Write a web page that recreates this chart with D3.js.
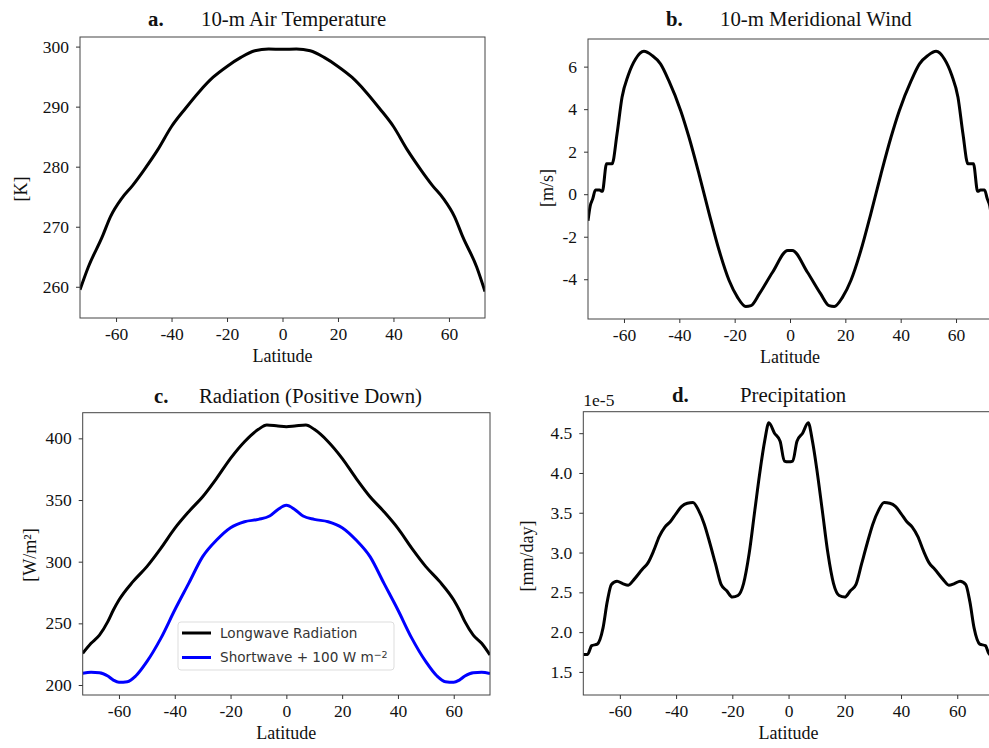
<!DOCTYPE html>
<html>
<head>
<meta charset="utf-8">
<script src="https://cdn.jsdelivr.net/npm/d3@7"></script>
<style>
body { margin: 0; background: #fff; }
svg { display: block; }
.tick text { font-family: "Liberation Serif", "Times New Roman", serif; font-size: 17.5px; fill: #111; }
.tick line { stroke: #333; }
.lbl { font-family: "Liberation Serif", "Times New Roman", serif; fill: #111; }
</style>
</head>
<body>
<div id="chart"></div>
<script>
// latitude ticks shared by all panels
const latTicks = [-60, -40, -20, 0, 20, 40, 60];

// a. 10-m air temperature [K]
const tempLat = [-73, -70, -65, -62, -58, -54, -50, -45, -40, -35, -30, -25, -20, -15, -10, -5, 0,
                 5, 10, 15, 20, 25, 30, 35, 40, 45, 50, 54, 58, 62, 65, 70, 73];
const tempVal = [259.5, 263.3, 268.3, 271.7, 274.7, 276.9, 279.4, 282.8, 286.7, 289.7, 292.5, 294.9, 296.7, 298.2, 299.3, 299.6, 299.55,
                 299.6, 299.3, 298.2, 296.7, 294.9, 292.5, 289.7, 286.7, 282.8, 279.4, 276.9, 274.7, 271.7, 268.3, 263.3, 259.2];
const tempTicks = [260, 270, 280, 290, 300];

// b. 10-m meridional wind [m/s]
const windLat = [-73, -72.2, -71.3, -70.3, -68.8, -68.2, -67.8, -66.3, -64.3, -62.5, -60.7, -58.5, -55.8, -52.8, -49.8, -46.8,
                 -43.8, -39.5, -36.5, -32.9, -29.2, -25.6, -22, -19, -16, -14.1, -11.1, -6.3, -0.8,
                 0.8, 6.3, 11.1, 14.1, 16, 19, 22, 25.6, 29.2, 32.9, 36.5, 39.5, 43.8,
                 46.8, 49.8, 52.8, 55.8, 58.5, 60.7, 62.5, 64.3, 66.3, 67.8, 68.2, 68.8, 70.3, 71.3, 72.2, 73];
const windVal = [-1.25, -0.55, -0.22, 0.2, 0.2, 0.14, 0.14, 1.43, 1.43, 2.84, 4.56, 5.58, 6.36, 6.72, 6.52, 6.13,
                 5.34, 3.93, 2.68, 0.96, -0.92, -2.65, -4.06, -4.84, -5.28, -5.24, -4.69, -3.67, -2.65,
                 -2.65, -3.67, -4.69, -5.24, -5.28, -4.84, -4.06, -2.65, -0.92, 0.96, 2.68, 3.93, 5.34,
                 6.13, 6.52, 6.72, 6.36, 5.58, 4.56, 2.84, 1.43, 1.43, 0.14, 0.14, 0.2, 0.2, -0.22, -0.55, -1.25];
const windTicks = [-4, -2, 0, 2, 4, 6];

// c. radiation (positive down) [W/m2]
const lwLat = [-73, -70, -67, -64, -62, -60, -55, -50, -45, -40, -35, -30, -25, -20, -15, -10, -7, -3, 0,
               3, 7, 10, 15, 20, 25, 30, 35, 40, 45, 50, 55, 60, 62, 64, 67, 70, 73];
const lwVal = [225.7, 233.8, 240.5, 251.4, 260.8, 268.9, 283.8, 296, 310.8, 327, 340.5, 352.7, 367.6, 383.8, 397.3, 407.3, 410.8, 410, 409.5,
               410, 410.8, 407.3, 397.3, 383.8, 367.6, 352.7, 340.5, 327, 310.8, 296, 283.8, 268.9, 260.8, 251.4, 240.5, 233.8, 224.3];
const swLat = [-73, -70, -67, -64, -62, -60, -57, -54, -50, -45, -40, -35, -30, -25, -20, -15, -10, -6, -3, 0,
               3, 6, 10, 15, 20, 25, 30, 35, 40, 45, 50, 54, 57, 60, 62, 64, 67, 70, 73];
const swVal = [209.5, 210.3, 210, 207.3, 204, 202.2, 202.7, 207.3, 218.9, 237.8, 260.8, 282.4, 304.1, 317.6, 327.6, 332.4, 334.3, 337, 342.4, 345.7,
               342.4, 337, 334.3, 332.4, 327.6, 317.6, 304.1, 282.4, 260.8, 237.8, 218.9, 207.3, 202.7, 202.2, 204, 207.3, 210, 210.3, 209.2];
const radTicks = [200, 250, 300, 350, 400];
const radNames = ["Longwave Radiation", "Shortwave + 100 W m"];

// d. precipitation [mm/day] x 1e-5
const prLat = [-73, -71.5, -70, -68, -66, -64.5, -63, -61, -59, -57, -55, -52, -50, -48, -46, -44, -42, -40, -38, -36, -34,
               -32, -30, -28, -26, -24, -22, -20, -18, -16, -14, -12, -10, -8.5, -7, -5, -3, -1.5, 0,
               1.5, 3, 5, 7, 8.5, 10, 12, 14, 16, 18, 20, 22, 24, 26, 28, 30, 32,
               34, 36, 38, 40, 42, 44, 46, 48, 50, 52, 55, 57, 59, 61, 63, 64.5, 66, 68, 70, 71.5, 73];
const prVal = [1.72, 1.72, 1.83, 1.85, 2.05, 2.38, 2.6, 2.64, 2.61, 2.59, 2.66, 2.79, 2.87, 3.02, 3.2, 3.32, 3.39, 3.49, 3.58, 3.62, 3.63,
               3.53, 3.36, 3.12, 2.86, 2.6, 2.52, 2.44, 2.46, 2.61, 2.99, 3.53, 4.06, 4.4, 4.63, 4.5, 4.4, 4.15, 4.14,
               4.15, 4.4, 4.5, 4.63, 4.4, 4.06, 3.53, 2.99, 2.61, 2.46, 2.44, 2.52, 2.6, 2.86, 3.12, 3.36, 3.53,
               3.63, 3.62, 3.58, 3.49, 3.39, 3.32, 3.2, 3.02, 2.87, 2.79, 2.66, 2.59, 2.61, 2.64, 2.6, 2.38, 2.05, 1.85, 1.83, 1.72, 1.72];
const prTicks = [1.5, 2.0, 2.5, 3.0, 3.5, 4.0, 4.5];

const width = 989;
const height = 748;

const svg = d3.select("#chart")
    .append("svg")
    .attr("width", width)
    .attr("height", height);

const panels = [
    { key: "a", box: [80, 485, 37, 318], yDom: [254.8, 301.6], yTicks: tempTicks, fmt: d3.format("d"),
      letterX: 148, titleX: 201, titleY: 26, title: "10-m Air Temperature",
      ylabel: "[K]", ylabelX: 21, ylabelY: 189,
      series: [{ lat: tempLat, val: tempVal, color: "#000" }] },
    { key: "b", box: [588, 992, 39, 319], yDom: [-5.87, 7.3], yTicks: windTicks, fmt: d => String(d),
      letterX: 666, titleX: 720, titleY: 26, title: "10-m Meridional Wind",
      ylabel: "[m/s]", ylabelX: 547, ylabelY: 188,
      series: [{ lat: windLat, val: windVal, color: "#000" }] },
    { key: "c", box: [82.7, 490, 412.7, 695], yDom: [191.9, 420.8], yTicks: radTicks, fmt: d3.format("d"),
      letterX: 154, titleX: 199, titleY: 403, title: "Radiation (Positive Down)",
      ylabel: "[W/m²]", ylabelX: 30, ylabelY: 555,
      series: [{ lat: lwLat, val: lwVal, color: "#000" }, { lat: swLat, val: swVal, color: "#0000ff" }] },
    { key: "d", box: [583.3, 993.8, 411.7, 695], yDom: [1.21, 4.77], yTicks: prTicks, fmt: d3.format(".1f"),
      letterX: 672, titleX: 740, titleY: 402, title: "Precipitation",
      ylabel: "[mm/day]", ylabelX: 527, ylabelY: 556,
      series: [{ lat: prLat, val: prVal, color: "#000" }] }
];

panels.forEach(p => {
    const [x0, x1, y0, y1] = p.box;
    const x = d3.scaleLinear().domain([-73, 73]).range([x0, x1]);
    const y = d3.scaleLinear().domain(p.yDom).range([y1, y0]);

    const g = svg.append("g");

    g.append("clipPath")
        .attr("id", "clip-" + p.key)
        .append("rect")
        .attr("x", x0).attr("y", y0)
        .attr("width", x1 - x0).attr("height", y1 - y0);

    // lines
    const line = d3.line()
        .x(d => x(d[0]))
        .y(d => y(d[1]))
        .curve(d3.curveMonotoneX);

    p.series.forEach(s => {
        g.append("path")
            .datum(s.lat.map((v, i) => [v, s.val[i]]))
            .attr("clip-path", "url(#clip-" + p.key + ")")
            .attr("fill", "none")
            .attr("stroke", s.color)
            .attr("stroke-width", 3)
            .attr("stroke-linejoin", "round")
            .attr("d", line);
    });

    // frame
    g.append("rect")
        .attr("x", x0).attr("y", y0)
        .attr("width", x1 - x0).attr("height", y1 - y0)
        .attr("fill", "none")
        .attr("stroke", "#444")
        .attr("stroke-width", 1);

    g.append("g")
        .attr("transform", `translate(0,${y1})`)
        .call(d3.axisBottom(x).tickValues(latTicks).tickFormat(d => String(d)).tickSize(4).tickPadding(6))
        .call(a => a.select(".domain").remove());

    g.append("g")
        .attr("transform", `translate(${x0},0)`)
        .call(d3.axisLeft(y).tickValues(p.yTicks).tickFormat(p.fmt).tickSize(4).tickPadding(7))
        .call(a => a.select(".domain").remove());

    // titles
    g.append("text")
        .attr("class", "lbl")
        .attr("x", p.letterX).attr("y", p.titleY)
        .attr("font-size", 20.8).attr("font-weight", "bold")
        .text(p.key + ".");

    g.append("text")
        .attr("class", "lbl")
        .attr("x", p.titleX).attr("y", p.titleY)
        .attr("font-size", 20.8)
        .text(p.title);

    g.append("text")
        .attr("class", "lbl")
        .attr("x", (x0 + x1) / 2)
        .attr("y", y1 + 44)
        .attr("text-anchor", "middle")
        .attr("font-size", 18)
        .text("Latitude");

    g.append("text")
        .attr("class", "lbl")
        .attr("transform", `translate(${p.ylabelX},${p.ylabelY}) rotate(-90)`)
        .attr("text-anchor", "middle")
        .attr("dy", "0.35em")
        .attr("font-size", 18)
        .text(p.ylabel);

    if (p.key === "d") {
        g.append("text")
            .attr("class", "lbl")
            .attr("x", x0).attr("y", y0 - 6)
            .attr("font-size", 17.5)
            .text("1e-5");
    }

    if (p.key === "c") {
        const leg = g.append("g").attr("transform", "translate(178,622)");
        leg.append("rect")
            .attr("width", 216).attr("height", 48)
            .attr("rx", 3)
            .attr("fill", "#fff").attr("fill-opacity", 0.8)
            .attr("stroke", "#ddd");

        const items = leg.selectAll(".item")
            .data(p.series)
            .enter()
            .append("g")
            .attr("transform", (d, i) => `translate(0,${11 + i * 24.5})`);

        items.append("line")
            .attr("x1", 4).attr("x2", 33)
            .attr("stroke", d => d.color)
            .attr("stroke-width", 3);

        const t = items.append("text")
            .attr("x", 42).attr("dy", "0.35em")
            .attr("font-family", '"DejaVu Sans", sans-serif')
            .attr("font-size", 13.6)
            .attr("fill", "#333")
            .text((d, i) => radNames[i]);

        t.filter((d, i) => i === 1)
            .append("tspan")
            .attr("dy", "-0.45em")
            .attr("font-size", 9.5)
            .text("−2");
    }
});
</script>
</body>
</html>
